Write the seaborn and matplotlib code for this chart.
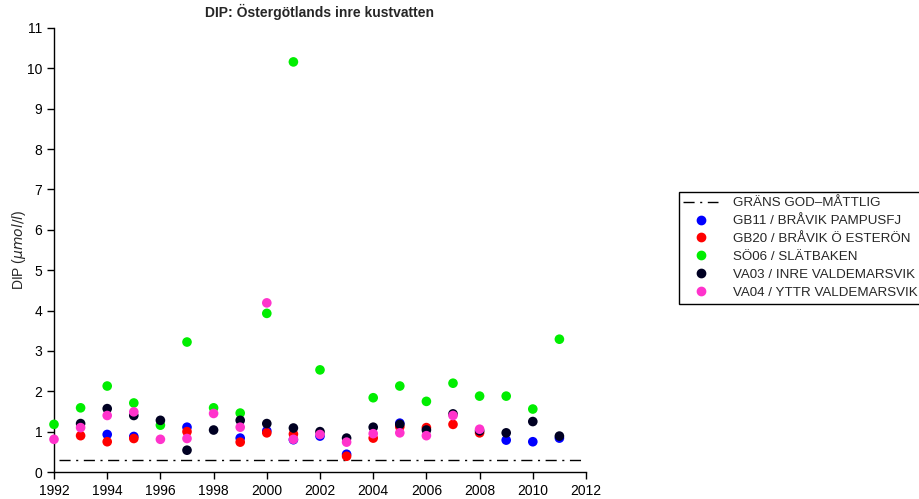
import numpy as np
import pandas as pd
import matplotlib
matplotlib.use("Agg")
import matplotlib.pyplot as plt
import seaborn as sns
from matplotlib.lines import Line2D

sns.set_style("ticks")
plt.rcParams['font.family'] = ['Liberation Sans', 'DejaVu Sans']

years = list(range(1992, 2012))
nan = np.nan

# DIP per station (µmol/l)
gb11 = [nan, nan, 0.93, 0.88, nan, 1.11, nan, 0.84, 1.02, 0.80,
        0.89, 0.44, nan, 1.21, nan, nan, nan, 0.79, 0.75, 0.84]
gb20 = [nan, 0.90, 0.75, 0.83, nan, 1.00, nan, 0.74, 0.97, 0.94,
        nan, 0.39, 0.84, 1.12, 1.10, 1.18, 0.97, nan, nan, nan]
so06 = [1.18, 1.59, 2.13, 1.71, 1.16, 3.22, 1.59, 1.46, 3.93, 10.16,
        2.53, nan, 1.84, 2.13, 1.75, 2.20, 1.88, 1.88, 1.56, 3.29]
va03 = [nan, 1.20, 1.57, 1.40, 1.28, 0.54, 1.04, 1.28, 1.20, 1.09,
        1.00, 0.84, 1.11, 1.18, 1.04, 1.44, 1.02, 0.97, 1.25, 0.89]
va04 = [0.81, 1.10, 1.40, 1.49, 0.81, 0.83, 1.45, 1.11, 4.19, 0.81,
        0.93, 0.74, 0.95, 0.97, 0.90, 1.40, 1.06, nan, nan, nan]

stations = ["GB11 / BRÅVIK PAMPUSFJ", "GB20 / BRÅVIK Ö ESTERÖN",
            "SÖ06 / SLÄTBAKEN", "VA03 / INRE VALDEMARSVIK",
            "VA04 / YTTR VALDEMARSVIK"]
colors = ["#0000ff", "#ff0000", "#00ee00", "#000022", "#ff33cc"]
limit = 0.3
limit_label = "GRÄNS GOD–MÅTTLIG"

# long format, sorted so later stations are drawn on top
frames = []
for name, vals in zip(stations, [gb11, gb20, so06, va03, va04]):
    frames.append(pd.DataFrame({"year": years, "dip": vals, "station": name}))
df = pd.concat(frames, ignore_index=True).dropna()

fig = plt.figure(figsize=(9.2, 4.99), dpi=100)
ax = fig.add_axes([54 / 920, 27 / 499, 532 / 920, 444 / 499])

dash = (0, (8, 4, 1.5, 4))
ax.plot([1992.2, 2012], [limit, limit], color="black", linestyle=dash, linewidth=1)
sns.scatterplot(data=df, x="year", y="dip", hue="station", hue_order=stations,
                palette=colors, s=48, edgecolor="none", legend=False, ax=ax,
                clip_on=False, zorder=3)

ax.set_xlim(1992, 2012)
ax.set_ylim(0, 11)
ax.set_xticks(range(1992, 2013, 2))
ax.set_yticks(range(0, 12))
ax.tick_params(direction="out", length=5, width=1, labelsize=10, colors="black")
for side in ["left", "bottom"]:
    ax.spines[side].set_color("black")
    ax.spines[side].set_linewidth(1)
sns.despine(ax=ax)
ax.set_xlabel("")
ax.set_ylabel(r"DIP ($\mathit{\mu mol/l}$)", fontsize=10, labelpad=-1)
ax.set_title("DIP: Östergötlands inre kustvatten", fontsize=10, fontweight="bold",
             pad=8)

handles = [Line2D([], [], color="black", linestyle=dash, linewidth=1,
                  label=limit_label)]
for name, c in zip(stations, colors):
    handles.append(Line2D([], [], marker="o", linestyle="none", color=c,
                          markersize=6, label=name))
leg = ax.legend(handles=handles, loc="upper left", bbox_to_anchor=(1.174, 0.63),
                frameon=True, fancybox=False, fontsize=9.6, borderaxespad=0,
                handlelength=2.6, labelspacing=0.42, borderpad=0.35,
                handletextpad=1.1, framealpha=1)
leg.get_frame().set_edgecolor("black")
leg.get_frame().set_linewidth(1)

fig.savefig("out.png", dpi=100)
